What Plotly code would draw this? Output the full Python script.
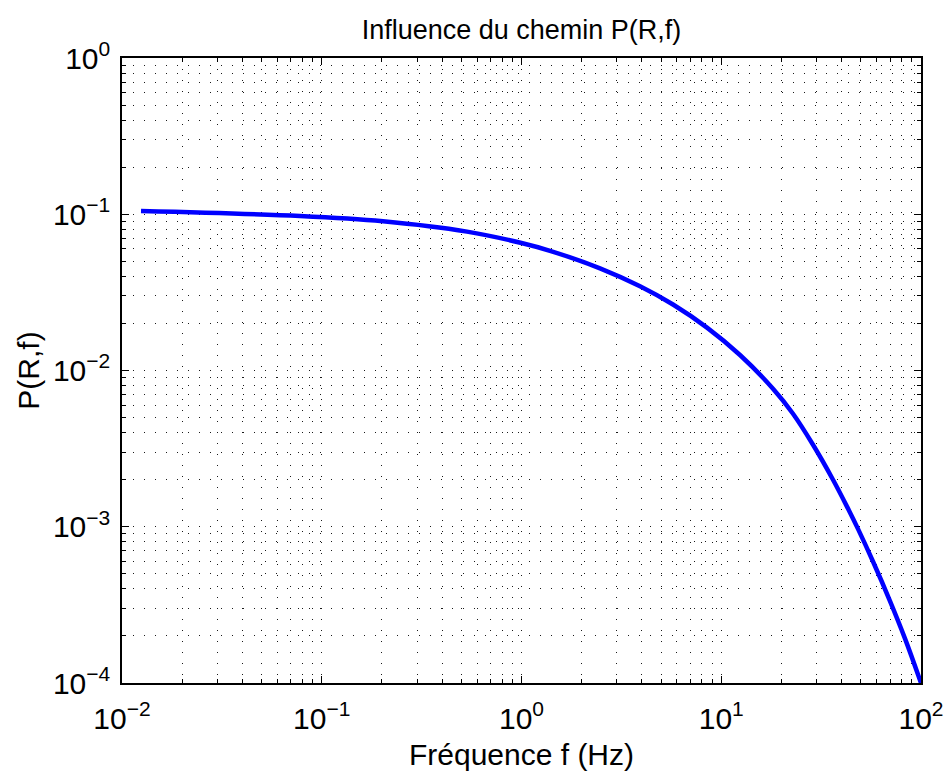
import plotly.graph_objects as go

# Path term P(R,f) versus frequency
freq_hz = [0.01245, 0.07783, 0.2025, 0.5334, 1.0, 1.389, 2.472, 3.920, 5.734, 8.484,
           12.41, 18.16, 22.87, 28.80, 36.27, 42.62, 48.37, 57.50, 69.96, 83.17, 100.0]
p_rf = [0.1049, 0.09745, 0.09013, 0.07742, 0.06546, 0.05836, 0.04508, 0.03459, 0.02645,
        0.01882, 0.01257, 0.007646, 0.005290, 0.003350, 0.002000, 0.001345, 0.0009688,
        0.0005991, 0.0003344, 0.0001923, 0.0001]

x_ticks = [0.01, 0.1, 1, 10, 100]
x_labels = ["10<sup>−2</sup>", "10<sup>−1</sup>", "10<sup>0</sup>", "10<sup>1</sup>", "10<sup>2</sup>"]
y_ticks = [1e-4, 1e-3, 1e-2, 1e-1, 1]
y_labels = ["10<sup>−4</sup>", "10<sup>−3</sup>", "10<sup>−2</sup>", "10<sup>−1</sup>", "10<sup>0</sup>"]

x_minor = [m * 10 ** e for e in range(-2, 2) for m in range(2, 10)]
y_minor = [m * 10 ** e for e in range(-4, 0) for m in range(2, 10)]

FONT = "Liberation Sans, Arial, Helvetica, sans-serif"
GRID = dict(showgrid=True, gridcolor="#1a1a1a", gridwidth=1, griddash="1px,10px")

fig = go.Figure()
fig.add_trace(go.Scatter(
    x=freq_hz, y=p_rf, mode="lines",
    line=dict(color="#0000ff", width=4.5, shape="spline", smoothing=1.0),
    showlegend=False,
))

axis_common = dict(
    type="log", tickmode="array", ticks="inside", ticklen=7, tickwidth=1,
    tickcolor="black", showline=True, linecolor="black", linewidth=1.5,
    mirror="ticks", zeroline=False, automargin=False,
    tickfont=dict(size=30, color="black", family=FONT),
    **GRID,
)

fig.update_xaxes(
    range=[-2, 2], tickvals=x_ticks, ticktext=x_labels, ticklabelstandoff=8,
    minor=dict(tickvals=x_minor, ticks="inside", ticklen=4, tickcolor="black", **GRID),
    title=dict(text="Fréquence f (Hz)", font=dict(size=30, color="black", family=FONT), standoff=14),
    **axis_common,
)
fig.update_yaxes(
    range=[-4, 0], tickvals=y_ticks, ticktext=y_labels, ticklabelstandoff=4,
    minor=dict(tickvals=y_minor, ticks="inside", ticklen=4, tickcolor="black", **GRID),
    title=dict(text="P(R,f)", font=dict(size=30, color="black", family=FONT), standoff=4),
    **axis_common,
)

fig.update_layout(
    width=946, height=771,
    margin=dict(l=122, r=25, t=58, b=88),
    paper_bgcolor="white", plot_bgcolor="white",
    font=dict(family=FONT, color="black"),
    title=dict(text="Influence du chemin P(R,f)", x=0.5513, xanchor="center",
               y=0.962, yanchor="middle", font=dict(size=27, color="black", family=FONT)),
)

fig.write_html("out.html")
